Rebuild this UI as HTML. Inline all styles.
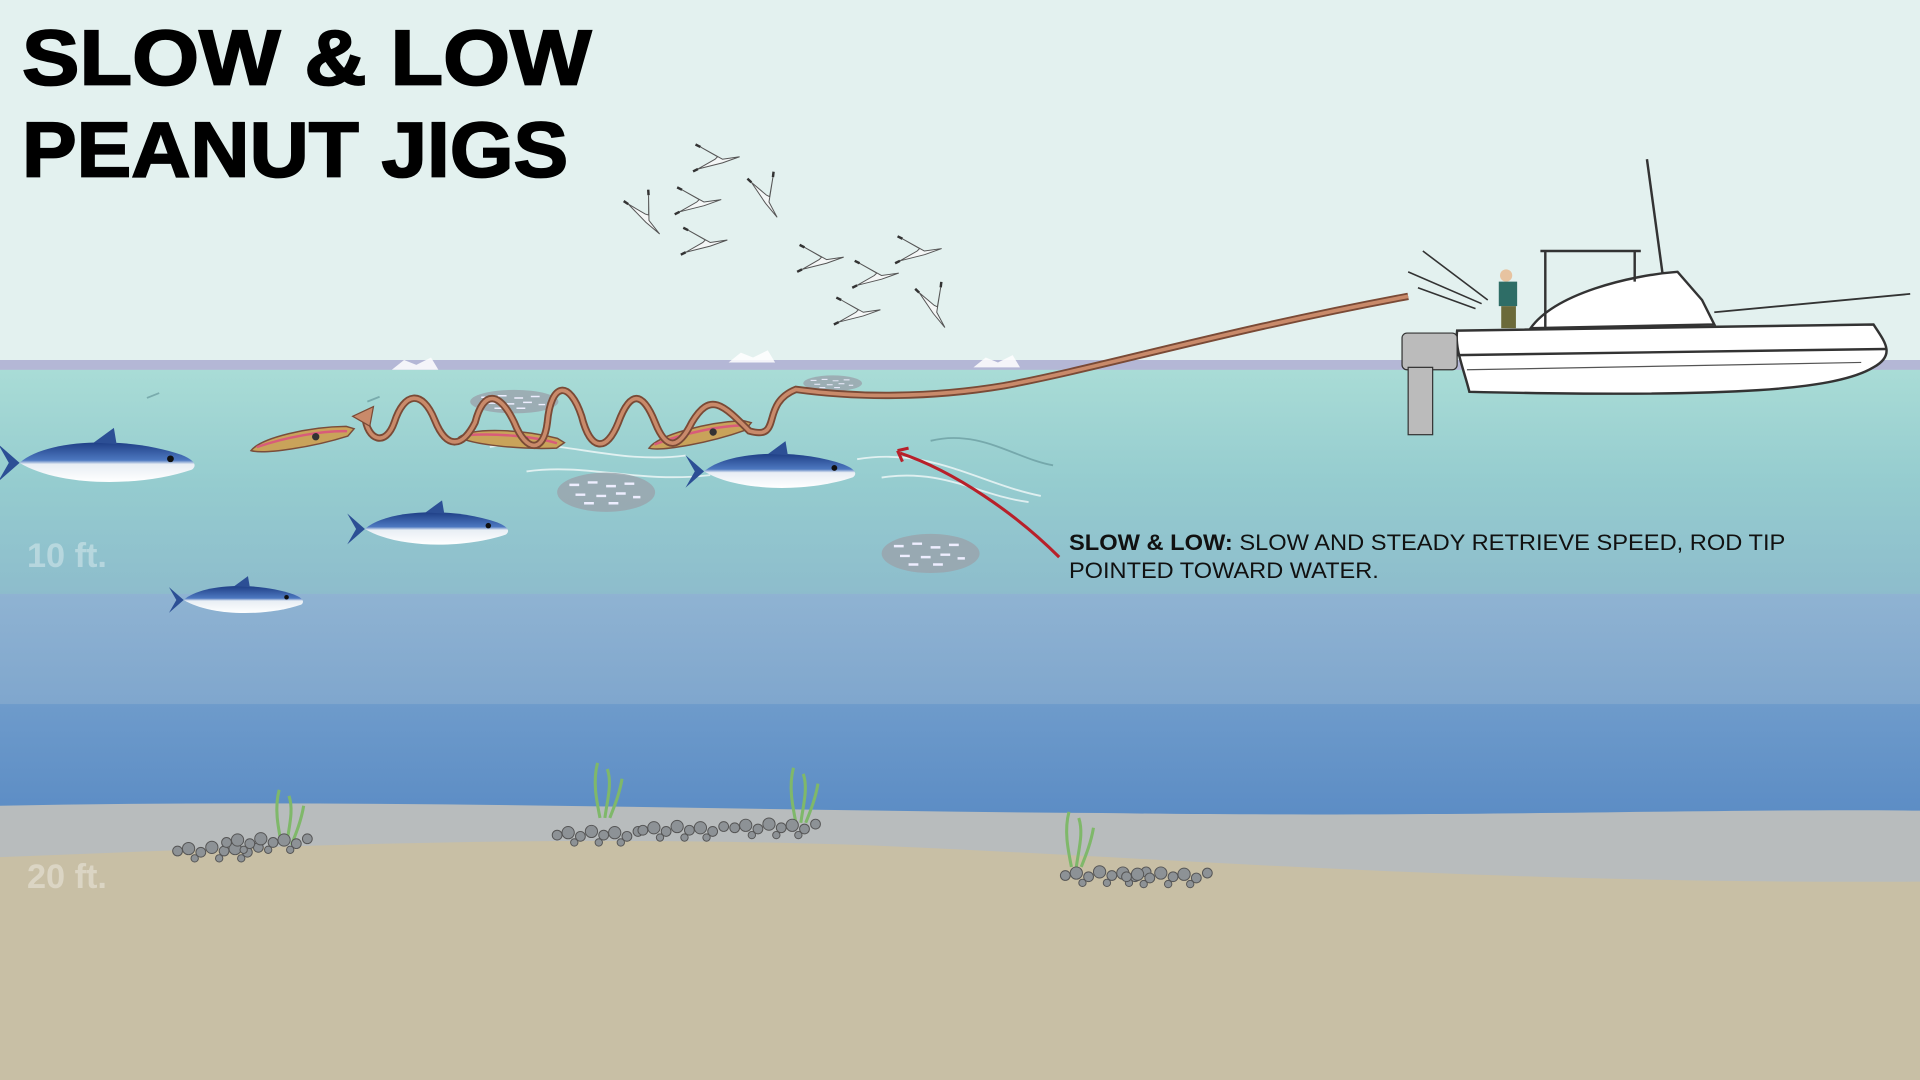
<!DOCTYPE html>
<html><head><meta charset="utf-8"><style>
html,body{margin:0;padding:0;width:1920px;height:1080px;overflow:hidden;background:#e3f1ef}
svg{display:block}
</style></head><body>
<svg width="1920" height="1080" viewBox="0 0 1568 882" preserveAspectRatio="none" xmlns="http://www.w3.org/2000/svg">
<defs>
<linearGradient id="w1" x1="0" y1="0" x2="0" y2="1">
<stop offset="0" stop-color="#a9dcd6"/><stop offset="0.5" stop-color="#95cccf"/><stop offset="1" stop-color="#8dbccc"/></linearGradient>
<linearGradient id="w2" x1="0" y1="0" x2="0" y2="1">
<stop offset="0" stop-color="#8fb3d2"/><stop offset="1" stop-color="#7fa6cd"/></linearGradient>
<linearGradient id="w3" x1="0" y1="0" x2="0" y2="1">
<stop offset="0" stop-color="#6e9bcb"/><stop offset="1" stop-color="#5a8bc4"/></linearGradient>
<linearGradient id="fish" x1="0" y1="0" x2="0" y2="1">
<stop offset="0" stop-color="#1f3f86"/><stop offset="0.45" stop-color="#4d78c0"/><stop offset="0.55" stop-color="#e8eef4"/><stop offset="1" stop-color="#ffffff"/></linearGradient>
<g id="tuna"><path d="M0,0 C20,-18 80,-20 120,-6 C130,-2 132,2 128,5 C90,18 30,18 0,0 Z" fill="url(#fish)"/><path d="M0,0 L-16,-14 L-8,0 L-16,14 Z" fill="#2c4f95"/><path d="M55,-15 L70,-26 L72,-14 Z" fill="#2c4f95"/><circle cx="112" cy="-3" r="2.5" fill="#111"/></g>
<g id="bird"><path d="M0,0 L-18,-10 L-4,-2 L-6,0 L-20,8 L0,3 L14,-2 Z" fill="#f4f6f6" stroke="#555" stroke-width="0.8"/><path d="M-18,-10 L-22,-12" stroke="#333" stroke-width="2"/><path d="M-20,8 L-24,10" stroke="#333" stroke-width="2"/></g>
<g id="bait"><ellipse cx="0" cy="0" rx="40" ry="16" fill="#9aa3ab" opacity="0.8"/><g stroke="#eef" stroke-width="2"><path d="M-30,-6 h8 M-15,-8 h8 M0,-5 h8 M15,-7 h8 M-25,2 h8 M-8,3 h8 M8,1 h8 M22,4 h6 M-18,9 h8 M2,9 h8"/></g></g>
<g id="rocks" fill="#8d9296" stroke="#555" stroke-width="0.8"><circle cx="0" cy="0" r="4"/><circle cx="9" cy="-2" r="5"/><circle cx="19" cy="1" r="4"/><circle cx="28" cy="-3" r="5"/><circle cx="38" cy="0" r="4"/><circle cx="47" cy="-2" r="5"/><circle cx="57" cy="1" r="4"/><circle cx="66" cy="-3" r="4"/><circle cx="14" cy="6" r="3"/><circle cx="34" cy="6" r="3"/><circle cx="52" cy="6" r="3"/></g>
<g id="weed" stroke="#7fb86a" stroke-width="2.5" fill="none"><path d="M0,0 C-3,-15 -6,-30 -2,-45"/><path d="M4,0 C6,-15 10,-28 6,-40"/><path d="M8,0 C12,-10 16,-20 18,-32"/></g>
<g id="lure"><path d="M0,0 C10,-9 50,-11 80,-6 L86,-3 L80,2 C50,6 10,5 0,0 Z" fill="#c9a35a" stroke="#7a4d3a" stroke-width="1.2"/><path d="M5,-2 C30,-6 60,-6 80,-2" stroke="#d85c7a" stroke-width="2" fill="none"/><circle cx="54" cy="-2" r="3" fill="#333"/></g>
</defs>
<rect x="0" y="0" width="1568" height="300" fill="#e3f1ef"/>
<rect x="0" y="294" width="1568" height="10" fill="#b4b7d6"/>
<rect x="0" y="302" width="1568" height="185" fill="url(#w1)"/>
<rect x="0" y="485" width="1568" height="92" fill="url(#w2)"/>
<rect x="0" y="575" width="1568" height="100" fill="url(#w3)"/>
<path d="M0,658 C300,652 600,662 900,664 C1200,668 1400,660 1568,662 L1568,882 L0,882 Z" fill="#b8bcbd"/>
<path d="M0,700 C250,690 450,682 700,690 C950,700 1200,722 1568,720 L1568,882 L0,882 Z" fill="#c8bfa5"/>
<g fill="#fff" opacity="0.85"><path d="M320,302 l10,-8 l10,4 l12,-6 l6,10 Z"/><path d="M595,296 l10,-8 l10,4 l12,-6 l6,10 Z"/><path d="M795,300 l10,-8 l10,4 l12,-6 l6,10 Z"/></g>
<g stroke="#fff" stroke-width="1.5" fill="none" opacity="0.7"><path d="M400,365 C450,355 500,380 560,372"/><path d="M430,385 C480,378 520,395 580,388"/><path d="M700,375 C760,365 800,395 850,405"/><path d="M720,390 C770,382 800,405 840,410"/></g>
<g stroke="#5d8d92" stroke-width="1.5" fill="none" opacity="0.6"><path d="M760,360 C800,350 830,375 860,380"/><path d="M120,325 l10,-4"/><path d="M300,328 l10,-4"/></g>
<use href="#tuna" transform="translate(16,378) scale(1.1)"/>
<use href="#tuna" transform="translate(575,385) scale(0.95)"/>
<use href="#tuna" transform="translate(298,432) scale(0.9)"/>
<use href="#tuna" transform="translate(150,490) scale(0.75)"/>
<use href="#bait" transform="translate(495,402)"/>
<use href="#bait" transform="translate(760,452)"/>
<use href="#bait" transform="translate(420,328) scale(0.9,0.6)"/>
<use href="#bait" transform="translate(680,313) scale(0.6,0.4)"/>
<use href="#lure" transform="translate(205,368) rotate(-10)"/>
<use href="#lure" transform="translate(375,357) rotate(5)"/>
<use href="#lure" transform="translate(530,366) rotate(-12)"/>
<path d="M1150,242 C1000,270 900,300 820,315 C760,325 700,325 650,318 C620,330 640,360 612,352 C590,330 580,320 565,345 C555,365 545,370 535,345 C525,320 515,318 505,345 C495,370 482,368 475,340 C465,310 450,312 447,345 C444,370 430,370 420,345 C408,320 395,318 388,345 C378,365 365,368 355,343 C345,318 330,320 322,345 C315,365 300,360 298,340" stroke="#7a4a36" stroke-width="6" fill="none"/>
<path d="M1150,242 C1000,270 900,300 820,315 C760,325 700,325 650,318 C620,330 640,360 612,352 C590,330 580,320 565,345 C555,365 545,370 535,345 C525,320 515,318 505,345 C495,370 482,368 475,340 C465,310 450,312 447,345 C444,370 430,370 420,345 C408,320 395,318 388,345 C378,365 365,368 355,343 C345,318 330,320 322,345 C315,365 300,360 298,340" stroke="#c98a6a" stroke-width="3" fill="none"/>
<path d="M288,340 L305,332 L302,348 Z" fill="#c98a6a" stroke="#7a4a36"/>
<path d="M865,455 C830,420 780,385 735,370" stroke="#b8202a" stroke-width="2.5" fill="none"/>
<path d="M733,368 L742,366 M733,368 L737,377" stroke="#b8202a" stroke-width="2.5"/>
<g>
<use href="#bird" transform="translate(590,130)"/><use href="#bird" transform="translate(575,165)"/><use href="#bird" transform="translate(530,180) rotate(60)"/><use href="#bird" transform="translate(580,198)"/><use href="#bird" transform="translate(628,165) rotate(70)"/><use href="#bird" transform="translate(675,212)"/><use href="#bird" transform="translate(720,225)"/><use href="#bird" transform="translate(755,205)"/><use href="#bird" transform="translate(705,255)"/><use href="#bird" transform="translate(765,255) rotate(70)"/>
</g>
<path d="M1162,205 L1215,245 M1150,222 L1210,248 M1158,235 L1205,252" stroke="#333" stroke-width="1.3"/>
<path d="M1345,130 L1360,240" stroke="#333" stroke-width="2"/>
<path d="M1190,270 L1530,265 C1540,280 1548,290 1530,300 C1500,318 1420,325 1200,320 C1195,300 1188,285 1190,270 Z" fill="#fff" stroke="#333" stroke-width="2"/>
<path d="M1190,290 L1540,285" stroke="#333" stroke-width="2"/>
<path d="M1198,302 L1520,296" stroke="#555" stroke-width="1"/>
<path d="M1250,268 C1270,240 1330,225 1370,222 L1390,245 L1400,265 Z" fill="#fff" stroke="#333" stroke-width="2"/>
<path d="M1258,205 L1340,205 M1262,205 L1262,268 M1335,205 L1335,230" stroke="#333" stroke-width="2" fill="none"/>
<path d="M1400,255 L1560,240" stroke="#333" stroke-width="1.5"/>
<rect x="1145" y="272" width="45" height="30" rx="4" fill="#bbb" stroke="#333"/>
<rect x="1150" y="300" width="20" height="55" fill="#bbb" stroke="#333"/>
<circle cx="1230" cy="225" r="5" fill="#e7c3a0"/><rect x="1224" y="230" width="15" height="20" fill="#2e6d66"/><rect x="1226" y="250" width="12" height="18" fill="#6b6a3a"/>
<use href="#weed" transform="translate(230,690)"/><use href="#weed" transform="translate(490,668)"/><use href="#weed" transform="translate(650,672)"/><use href="#weed" transform="translate(875,708)"/>
<use href="#rocks" transform="translate(145,695)"/><use href="#rocks" transform="translate(185,688)"/>
<use href="#rocks" transform="translate(455,682)"/><use href="#rocks" transform="translate(525,678)"/><use href="#rocks" transform="translate(600,676)"/>
<use href="#rocks" transform="translate(870,715)"/><use href="#rocks" transform="translate(920,716)"/>
<g font-family="Liberation Sans, sans-serif" font-weight="bold" fill="#000" stroke="#000" stroke-width="1.5">
<text x="18" y="69" font-size="64" textLength="465" lengthAdjust="spacingAndGlyphs">SLOW &amp; LOW</text>
<text x="18" y="144" font-size="64" textLength="446" lengthAdjust="spacingAndGlyphs">PEANUT JIGS</text>
</g>
<g font-family="Liberation Sans, sans-serif" font-weight="bold" fill="#fff" opacity="0.35" font-size="28">
<text x="22" y="463">10 ft.</text><text x="22" y="725">20 ft.</text>
</g>
<g font-family="Liberation Sans, sans-serif" font-size="18" fill="#111">
<text x="873" y="449" textLength="585" lengthAdjust="spacingAndGlyphs"><tspan font-weight="bold">SLOW &amp; LOW:</tspan> SLOW AND STEADY RETRIEVE SPEED, ROD TIP</text>
<text x="873" y="472" textLength="253" lengthAdjust="spacingAndGlyphs">POINTED TOWARD WATER.</text>
</g>
</svg>
</body></html>
